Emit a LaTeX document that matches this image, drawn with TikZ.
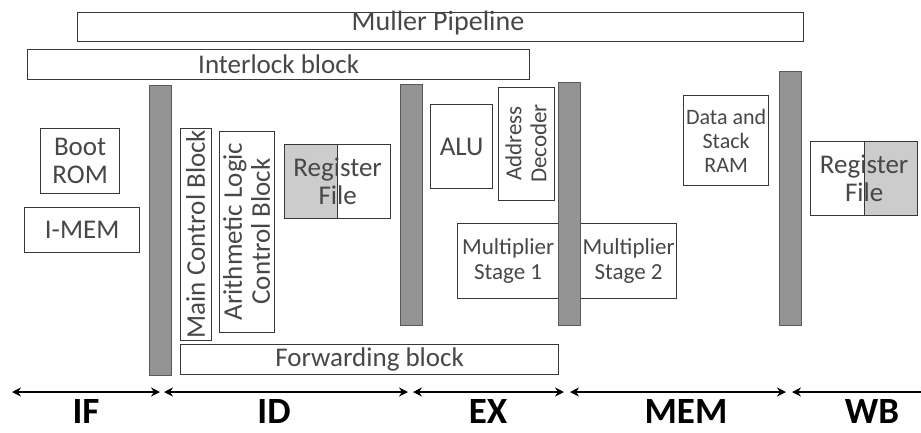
\documentclass[tikz,border=0pt]{standalone}
\usepackage{fontspec}
\setmainfont{Carlito}
\usetikzlibrary{arrows.meta}
\begin{document}
\begin{tikzpicture}[x=1pt,y=-1pt,
  blk/.style={draw=black!78, line width=1.3pt, fill=white, inner sep=0pt,
    anchor=north west, align=center, text=black!72,
    font=\fontsize{27}{28}\selectfont},
  small/.style={font=\fontsize{23}{25}\selectfont},
  vblk/.style={blk, anchor=center, rotate=90, line width=0.9pt},
  latch/.style={draw=black!65, line width=1.2pt, fill=black!42, inner sep=0pt,
    anchor=north west},
  regfile/.style={blk, path picture={
      \fill[black!20] (path picture bounding box.north #1) rectangle (path picture bounding box.south);
      \draw[black!78, line width=1.3pt] (path picture bounding box.north) -- (path picture bounding box.south);}},
  stage/.style={line width=2.6pt, {Stealth[length=9pt,width=9pt]}-{Stealth[length=9pt,width=9pt]}},
  stagelbl/.style={font=\fontsize{37}{37}\bfseries\selectfont, anchor=base, inner sep=0pt, text=black}
]
\useasboundingbox (0,0) rectangle (921,432);

% global control blocks
\node[blk, minimum width=726pt, minimum height=29pt] (muller) at (77,12) {};
\node[font=\fontsize{28}{28}\selectfont, text=black!72, anchor=base, inner sep=0pt] (mullerlbl) at (438,30) {Muller Pipeline};
\node[blk, minimum width=502pt, minimum height=30pt] (interlock) at (27,49) {Interlock block};

% IF stage
\node[blk, minimum width=79pt, minimum height=65pt] (bootrom) at (40,128) {Boot\\ROM};
\node[blk, minimum width=115pt, minimum height=45pt] (imem) at (24,207) {I-MEM};

% ID stage
\node[vblk, minimum width=212pt, minimum height=31pt] (mainctl) at (195.5,234) {Main Control Block};
\node[vblk, minimum width=201pt, minimum height=55pt] (aluctl) at (246.5,231.5) {Arithmetic Logic\\Control Block};
\node[regfile=west, minimum width=106pt, minimum height=74pt] (rfid) at (284,144) {Register\\File};
\node[blk, minimum width=378pt, minimum height=30pt] (fwd) at (180,344) {Forwarding block};

% EX / MEM stage
\node[blk, minimum width=62pt, minimum height=84pt] (alu) at (430,104) {ALU};
\node[vblk, small, minimum width=113pt, minimum height=56pt] (addrdec) at (526,143.5) {Address\\Decoder};
\node[blk, small, minimum width=101pt, minimum height=75pt] (mul1) at (457,223) {Multiplier\\Stage 1};
\node[blk, small, minimum width=96pt, minimum height=75pt] (mul2) at (580,223) {Multiplier\\Stage 2};
\node[blk, font=\fontsize{22}{24}\selectfont, minimum width=85pt, minimum height=90pt] (dram) at (683,95) {Data and\\Stack\\RAM};

% WB stage
\node[regfile=east, minimum width=107pt, minimum height=74pt] (rfwb) at (810,141) {Register\\File};

% pipeline registers
\node[latch, minimum width=22pt, minimum height=290pt] (reg1) at (149,85) {};
\node[latch, minimum width=22pt, minimum height=241pt] (reg2) at (400,84) {};
\node[latch, minimum width=22pt, minimum height=243pt] (reg3) at (558,82) {};
\node[latch, minimum width=22pt, minimum height=254pt] (reg4) at (779,71) {};

% stage extents
\coordinate (if0) at (12,392);   \coordinate (if1) at (160,392);
\coordinate (id0) at (164,392);  \coordinate (id1) at (408,392);
\coordinate (ex0) at (413,392);  \coordinate (ex1) at (564,392);
\coordinate (me0) at (570,392);  \coordinate (me1) at (786,392);
\coordinate (wb0) at (792,392);  \coordinate (wb1) at (930,392);
\draw[stage] (if0) -- (if1);
\draw[stage] (id0) -- (id1);
\draw[stage] (ex0) -- (ex1);
\draw[stage] (me0) -- (me1);
\draw[stage] (wb0) -- (wb1);

\node[stagelbl] (lif)  at (86,423)  {IF};
\node[stagelbl] (lid)  at (274,423) {ID};
\node[stagelbl] (lex)  at (488,423) {EX};
\node[stagelbl] (lmem) at (686,423) {MEM};
\node[stagelbl] (lwb)  at (872,423) {WB};
\end{tikzpicture}
\end{document}
